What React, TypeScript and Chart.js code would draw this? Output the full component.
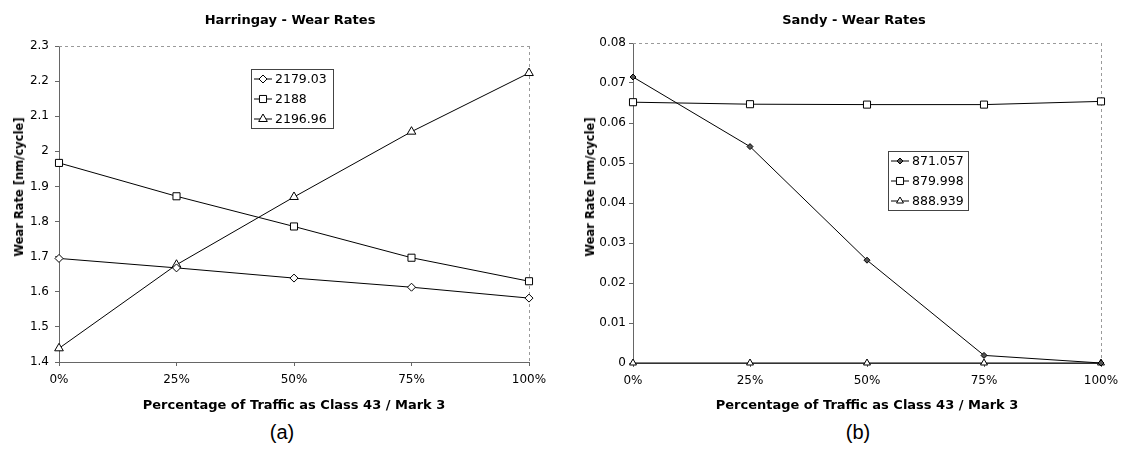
import React, { useEffect, useRef } from 'react';
import { Chart, registerables } from 'chart.js';
import { drawPoint } from 'chart.js/helpers';

Chart.register(...registerables);

const FONT = "'DejaVu Sans', Verdana, sans-serif";

// ---- data ----
const categories = ['0%', '25%', '50%', '75%', '100%'];

const harringayTitle = 'Harringay - Wear Rates';
const harringayLabels = ['2179.03', '2188', '2196.96'];
const harringay2179 = [1.695, 1.668, 1.639, 1.613, 1.582];
const harringay2188 = [1.967, 1.872, 1.786, 1.697, 1.63];
const harringay2197 = [1.439, 1.677, 1.87, 2.056, 2.223];
const harringayAxis = { min: 1.4, max: 2.3, step: 0.1 };

const sandyTitle = 'Sandy - Wear Rates';
const sandyLabels = ['871.057', '879.998', '888.939'];
const sandy871 = [0.0715, 0.0541, 0.0257, 0.0019, 0.0];
const sandy880 = [0.0652, 0.0647, 0.0646, 0.0646, 0.0654];
const sandy889 = [0, 0, 0, 0, 0];
const sandyAxis = { min: 0, max: 0.08, step: 0.01 };

const xTitle = 'Percentage of Traffic as Class 43 / Mark 3';
const yTitle = 'Wear Rate [nm/cycle]';

// ---- plugins ----
const framePlugin = {
  id: 'frameLines',
  beforeDatasetsDraw(chart: any) {
    const { ctx, chartArea: a } = chart;
    ctx.save();
    ctx.strokeStyle = '#9a9a9a';
    ctx.lineWidth = 1;
    ctx.setLineDash([3, 3]);
    ctx.beginPath();
    ctx.moveTo(a.left, a.top + 0.5);
    ctx.lineTo(a.right, a.top + 0.5);
    ctx.moveTo(a.right + 0.5, a.top);
    ctx.lineTo(a.right + 0.5, a.bottom);
    ctx.stroke();
    ctx.restore();
  },
};

const boxLegendPlugin = {
  id: 'boxLegend',
  afterDatasetsDraw(chart: any, _args: any, opts: any) {
    if (!opts || !opts.display) return;
    const { ctx, chartArea: a } = chart;
    const x0 = Math.round(a.left + opts.x * (a.right - a.left));
    const y0 = Math.round(a.top + opts.y * (a.bottom - a.top));
    ctx.save();
    ctx.fillStyle = '#fff';
    ctx.fillRect(x0, y0, opts.width, opts.height);
    ctx.strokeStyle = '#444';
    ctx.lineWidth = 1;
    ctx.strokeRect(x0 + 0.5, y0 + 0.5, opts.width, opts.height);
    ctx.font = `12.5px ${FONT}`;
    chart.data.datasets.forEach((ds: any, i: number) => {
      const y = y0 + opts.padTop + opts.rowHeight * (i + 0.5);
      ctx.strokeStyle = '#000';
      ctx.lineWidth = 1;
      ctx.beginPath();
      ctx.moveTo(x0 + 3, y);
      ctx.lineTo(x0 + 21, y);
      ctx.stroke();
      ctx.fillStyle = ds.pointBackgroundColor;
      ctx.strokeStyle = ds.pointBorderColor;
      drawPoint(ctx, { pointStyle: ds.pointStyle, radius: ds.pointRadius, borderWidth: 1, rotation: 0 } as any, x0 + 12, y);
      ctx.fillStyle = '#000';
      ctx.textAlign = 'left';
      ctx.textBaseline = 'middle';
      ctx.fillText(ds.label, x0 + 24, y + 0.5);
    });
    ctx.restore();
  },
};

const fmt = (v: number | string) => String(+Number(v).toFixed(3));

function makeSeries(label: string, data: number[], style: string, radius: number, fill = '#fff') {
  return {
    label,
    data,
    borderColor: '#000',
    borderWidth: 1,
    pointStyle: style,
    pointRadius: radius,
    pointBackgroundColor: fill,
    pointBorderColor: '#000',
    pointBorderWidth: 1,
    tension: 0,
    clip: false,
  };
}

function makeConfig(p: {
  datasets: any[];
  axis: { min: number; max: number; step: number };
  padTop: number;
  padRight: number;
  yWidth: number;
  yTickPad: number;
  xHeight: number;
  legend: any;
}): any {
  return {
    type: 'line',
    data: { labels: categories, datasets: p.datasets },
    options: {
      animation: false,
      responsive: false,
      maintainAspectRatio: false,
      layout: { padding: { top: p.padTop, right: p.padRight, bottom: 0, left: 0 } },
      plugins: {
        legend: { display: false },
        title: { display: false },
        tooltip: { enabled: false },
        boxLegend: p.legend,
      },
      scales: {
        x: {
          type: 'category',
          offset: false,
          grid: { display: true, drawOnChartArea: false, drawTicks: true, tickLength: 4, color: '#666' },
          border: { display: true, color: '#666', width: 1 },
          ticks: { color: '#000', font: { family: FONT, size: 12 }, padding: 7, maxRotation: 0 },
          title: {
            display: true,
            text: xTitle,
            color: '#000',
            font: { family: FONT, size: 13, weight: 'bold' },
            padding: { top: 0, bottom: 7 },
          },
          afterFit: (s: any) => {
            s.height = p.xHeight;
          },
        },
        y: {
          type: 'linear',
          min: p.axis.min,
          max: p.axis.max,
          grid: { display: true, drawOnChartArea: false, drawTicks: true, tickLength: 4, color: '#666' },
          border: { display: true, color: '#666', width: 1 },
          ticks: {
            stepSize: p.axis.step,
            color: '#000',
            font: { family: FONT, size: 12 },
            padding: p.yTickPad,
            callback: (v: any) => fmt(v),
          },
          title: { display: false },
          afterFit: (s: any) => {
            s.width = p.yWidth;
          },
        },
      },
    },
    plugins: [framePlugin, boxLegendPlugin],
  };
}

const titleStyle: React.CSSProperties = {
  position: 'absolute',
  top: 12,
  transform: 'translateX(-50%)',
  font: `bold 13px ${FONT}`,
  lineHeight: '16px',
  whiteSpace: 'nowrap',
  color: '#000',
};

const yTitleStyle: React.CSSProperties = {
  position: 'absolute',
  top: 187,
  transform: 'translate(-50%, -50%) rotate(-90deg)',
  font: `bold 11.5px ${FONT}`,
  lineHeight: '14px',
  whiteSpace: 'nowrap',
  color: '#000',
};

const tagStyle: React.CSSProperties = {
  position: 'absolute',
  top: 420,
  transform: 'translateX(-50%)',
  font: "20px 'Liberation Sans', Arial, sans-serif",
  lineHeight: '24px',
  whiteSpace: 'nowrap',
  color: '#000',
};

export default function App() {
  const leftRef = useRef<HTMLCanvasElement>(null);
  const rightRef = useRef<HTMLCanvasElement>(null);

  useEffect(() => {
    const c1 = new Chart(
      leftRef.current!,
      makeConfig({
        datasets: [
          makeSeries(harringayLabels[0], harringay2179, 'rectRot', 4),
          makeSeries(harringayLabels[1], harringay2188, 'rect', 5),
          makeSeries(harringayLabels[2], harringay2197, 'triangle', 5),
        ],
        axis: harringayAxis,
        padTop: 46,
        padRight: 38,
        yWidth: 59,
        yTickPad: 6,
        xHeight: 58,
        legend: { display: true, x: 0.4085, y: 0.0728, width: 82, height: 59, rowHeight: 20, padTop: 0 },
      })
    );
    const c2 = new Chart(
      rightRef.current!,
      makeConfig({
        datasets: [
          makeSeries(sandyLabels[0], sandy871, 'rectRot', 3, '#555'),
          makeSeries(sandyLabels[1], sandy880, 'rect', 5),
          makeSeries(sandyLabels[2], sandy889, 'triangle', 4),
        ],
        axis: sandyAxis,
        padTop: 43,
        padRight: 33,
        yWidth: 66,
        yTickPad: 3,
        xHeight: 57,
        legend: { display: true, x: 0.545, y: 0.3375, width: 80, height: 59, rowHeight: 20, padTop: 0 },
      })
    );
    return () => {
      c1.destroy();
      c2.destroy();
    };
  }, []);

  return (
    <div style={{ position: 'fixed', left: 0, top: 0, width: 1134, height: 453, background: '#fff', overflow: 'hidden' }}>
      <canvas ref={leftRef} width={567} height={420} style={{ position: 'absolute', left: 0, top: 0, width: 567, height: 420 }} />
      <canvas ref={rightRef} width={567} height={420} style={{ position: 'absolute', left: 567, top: 0, width: 567, height: 420 }} />
      <div style={{ ...titleStyle, left: 290 }}>{harringayTitle}</div>
      <div style={{ ...titleStyle, left: 854 }}>{sandyTitle}</div>
      <div style={{ ...yTitleStyle, left: 19 }}>{yTitle}</div>
      <div style={{ ...yTitleStyle, left: 590 }}>{yTitle}</div>
      <div style={{ ...tagStyle, left: 282 }}>(a)</div>
      <div style={{ ...tagStyle, left: 858 }}>(b)</div>
    </div>
  );
}
